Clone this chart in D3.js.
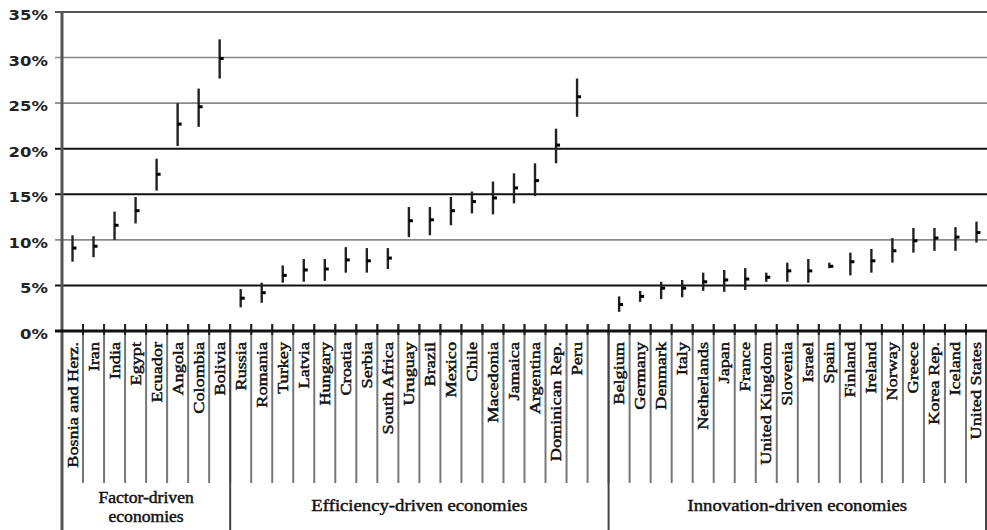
<!DOCTYPE html>
<html>
<head>
<meta charset="utf-8">
<script src="https://cdn.jsdelivr.net/npm/d3@7"></script>
<style>
  html, body { margin: 0; padding: 0; background: #fff; }
  svg { display: block; }
</style>
</head>
<body>
<svg id="chart" width="987" height="530"></svg>
<script>
// ---- Data ----
const factorCountries = ["Bosnia and Herz.", "Iran", "India", "Egypt", "Ecuador", "Angola", "Colombia", "Bolivia"];
const factorMean = [9.1, 9.3, 11.6, 13.2, 17.2, 22.7, 24.6, 29.9];
const factorLow  = [7.6, 8.1, 10.0, 11.8, 15.4, 20.3, 22.4, 27.7];
const factorHigh = [10.5, 10.4, 13.1, 14.7, 18.9, 25.0, 26.6, 32.0];

const efficiencyCountries = ["Russia", "Romania", "Turkey", "Latvia", "Hungary", "Croatia", "Serbia", "South Africa",
  "Uruguay", "Brazil", "Mexico", "Chile", "Macedonia", "Jamaica", "Argentina", "Dominican Rep.", "Peru"];
const efficiencyMean = [3.6, 4.2, 6.1, 6.7, 6.8, 7.8, 7.7, 8.0, 12.1, 12.2, 13.2, 14.2, 14.6, 15.7, 16.5, 20.4, 25.7];
const efficiencyLow  = [2.6, 3.1, 5.3, 5.4, 5.5, 6.4, 6.4, 6.8, 10.3, 10.5, 11.6, 12.9, 12.8, 14.0, 14.8, 18.4, 23.5];
const efficiencyHigh = [4.6, 5.3, 7.2, 7.9, 7.9, 9.2, 9.1, 9.1, 13.6, 13.6, 14.7, 15.3, 16.4, 17.3, 18.4, 22.2, 27.7];

const innovationCountries = ["Belgium", "Germany", "Denmark", "Italy", "Netherlands", "Japan", "France", "United Kingdom",
  "Slovenia", "Israel", "Spain", "Finland", "Ireland", "Norway", "Greece", "Korea Rep.", "Iceland", "United States"];
const innovationMean = [2.9, 3.8, 4.7, 4.7, 5.4, 5.6, 5.7, 5.9, 6.6, 6.6, 7.1, 7.6, 7.7, 8.8, 9.9, 10.2, 10.3, 10.8];
const innovationLow  = [2.1, 3.2, 3.5, 3.7, 4.4, 4.3, 4.5, 5.4, 5.4, 5.3, 6.9, 6.1, 6.4, 7.5, 8.6, 8.8, 8.8, 9.7];
const innovationHigh = [3.8, 4.4, 5.4, 5.6, 6.4, 6.7, 6.9, 6.4, 7.5, 7.9, 7.5, 8.6, 9.0, 10.2, 11.3, 11.3, 11.4, 12.0];

const groupNames = [["Factor-driven", "economies"], ["Efficiency-driven economies"], ["Innovation-driven economies"]];
const yTicks = [0, 5, 10, 15, 20, 25, 30, 35];

(function () {
  // ---- Build rows ----
  const BLANK = "__blank__";
  const rows = [];
  factorCountries.forEach((c, i) => rows.push({ c, m: factorMean[i], lo: factorLow[i], hi: factorHigh[i] }));
  efficiencyCountries.forEach((c, i) => rows.push({ c, m: efficiencyMean[i], lo: efficiencyLow[i], hi: efficiencyHigh[i] }));
  innovationCountries.forEach((c, i) => rows.push({ c, m: innovationMean[i], lo: innovationLow[i], hi: innovationHigh[i] }));

  const domain = [...factorCountries, ...efficiencyCountries, BLANK, ...innovationCountries];

  const svg = d3.select("#chart");
  const pl = 62, pr = 987, pt = 12, pb = 331;

  const x = d3.scaleBand().domain(domain).range([pl, pr]).paddingInner(0).paddingOuter(0);
  const y = d3.scaleLinear().domain([0, 35]).range([pb, pt]);

  // ---- Gridlines ----
  const gridStyle = {
    35: { c: "#555", w: 2.2 }, 30: { c: "#8a8a8a", w: 1.6 }, 25: { c: "#8a8a8a", w: 1.6 },
    20: { c: "#111", w: 2 }, 15: { c: "#111", w: 2 }, 10: { c: "#8a8a8a", w: 1.6 }, 5: { c: "#111", w: 2 }
  };
  svg.append("g").selectAll("line").data(yTicks.filter(t => t > 0)).join("line")
    .attr("x1", pl - 7).attr("x2", pr)
    .attr("y1", d => y(d)).attr("y2", d => y(d))
    .attr("stroke", d => gridStyle[d].c).attr("stroke-width", d => gridStyle[d].w);

  // ---- Category separators (below axis, gray) ----
  const bounds = d3.range(1, domain.length).map(i => pl + i * x.step());
  const groupBounds = [pl, pl + factorCountries.length * x.step(),
    pl + (factorCountries.length + efficiencyCountries.length + 1) * x.step(), pr - 1];

  svg.append("g").selectAll("line").data(bounds).join("line")
    .attr("x1", d => d).attr("x2", d => d)
    .attr("y1", pb - 7).attr("y2", 483)
    .attr("stroke", "#777").attr("stroke-width", 2);

  // dark tick parts around axis
  svg.append("g").selectAll("line").data(bounds).join("line")
    .attr("x1", d => d).attr("x2", d => d)
    .attr("y1", pb - 7).attr("y2", pb + 4)
    .attr("stroke", "#222").attr("stroke-width", 2);

  // group separators
  svg.append("g").selectAll("line").data(groupBounds).join("line")
    .attr("x1", d => d).attr("x2", d => d)
    .attr("y1", (d, i) => i === 0 ? pt : pb).attr("y2", 530)
    .attr("stroke", (d, i) => i === 0 ? "#555" : "#444").attr("stroke-width", (d, i) => i === 0 ? 3 : 2);

  // x axis line
  svg.append("line").attr("x1", pl - 7).attr("x2", pr).attr("y1", pb).attr("y2", pb)
    .attr("stroke", "#111").attr("stroke-width", 3);

  // ---- Y tick labels ----
  svg.append("g").selectAll("g").data(yTicks).join("g")
    .attr("transform", d => `translate(48,${y(d) + 8}) scale(1.22,1)`)
    .append("text")
    .attr("text-anchor", "end")
    .attr("font-family", "DejaVu Sans, Verdana, sans-serif")
    .attr("font-weight", "bold")
    .attr("font-size", 13.5)
    .attr("fill", "#222")
    .text(d => d + "%");

  // ---- Error bars ----
  const bars = svg.append("g");
  bars.selectAll("line").data(rows).join("line")
    .attr("x1", d => x(d.c) + x.bandwidth() / 2)
    .attr("x2", d => x(d.c) + x.bandwidth() / 2)
    .attr("y1", d => y(d.hi)).attr("y2", d => y(d.lo))
    .attr("stroke", "#222").attr("stroke-width", 2.4);
  bars.selectAll("rect").data(rows).join("rect")
    .attr("x", d => x(d.c) + x.bandwidth() / 2)
    .attr("y", d => y(d.m) - 1.5)
    .attr("width", 4).attr("height", 3)
    .attr("fill", "#000");

  // ---- Category labels ----
  svg.append("g").selectAll("text").data(rows).join("text")
    .attr("transform", d => `translate(${x(d.c) + x.bandwidth() / 2 + 5},342) rotate(-90) scale(1.3,1)`)
    .attr("text-anchor", "end")
    .attr("font-family", "Liberation Serif, Times New Roman, serif")
    .attr("font-size", 14)
    .attr("fill", "#111")
    .attr("stroke", "#111").attr("stroke-width", 0.45)
    .text(d => d.c);

  // ---- Group labels ----
  const groupCenters = [
    (groupBounds[0] + groupBounds[1]) / 2,
    (groupBounds[1] + groupBounds[2]) / 2,
    (groupBounds[2] + groupBounds[3]) / 2
  ];
  groupNames.forEach((lines, gi) => {
    const two = lines.length > 1;
    lines.forEach((t, li) => {
      const yy = two ? 503 + li * 19 : 511;
      svg.append("g")
        .attr("transform", `translate(${groupCenters[gi]},${yy}) scale(1.1,1)`)
        .append("text")
        .attr("text-anchor", "middle")
        .attr("font-family", "Liberation Serif, Times New Roman, serif")
        .attr("font-size", two ? 16 : 17)
        .attr("fill", "#111")
        .attr("stroke", "#111").attr("stroke-width", 0.45)
        .text(t);
    });
  });
})();
</script>
</body>
</html>
